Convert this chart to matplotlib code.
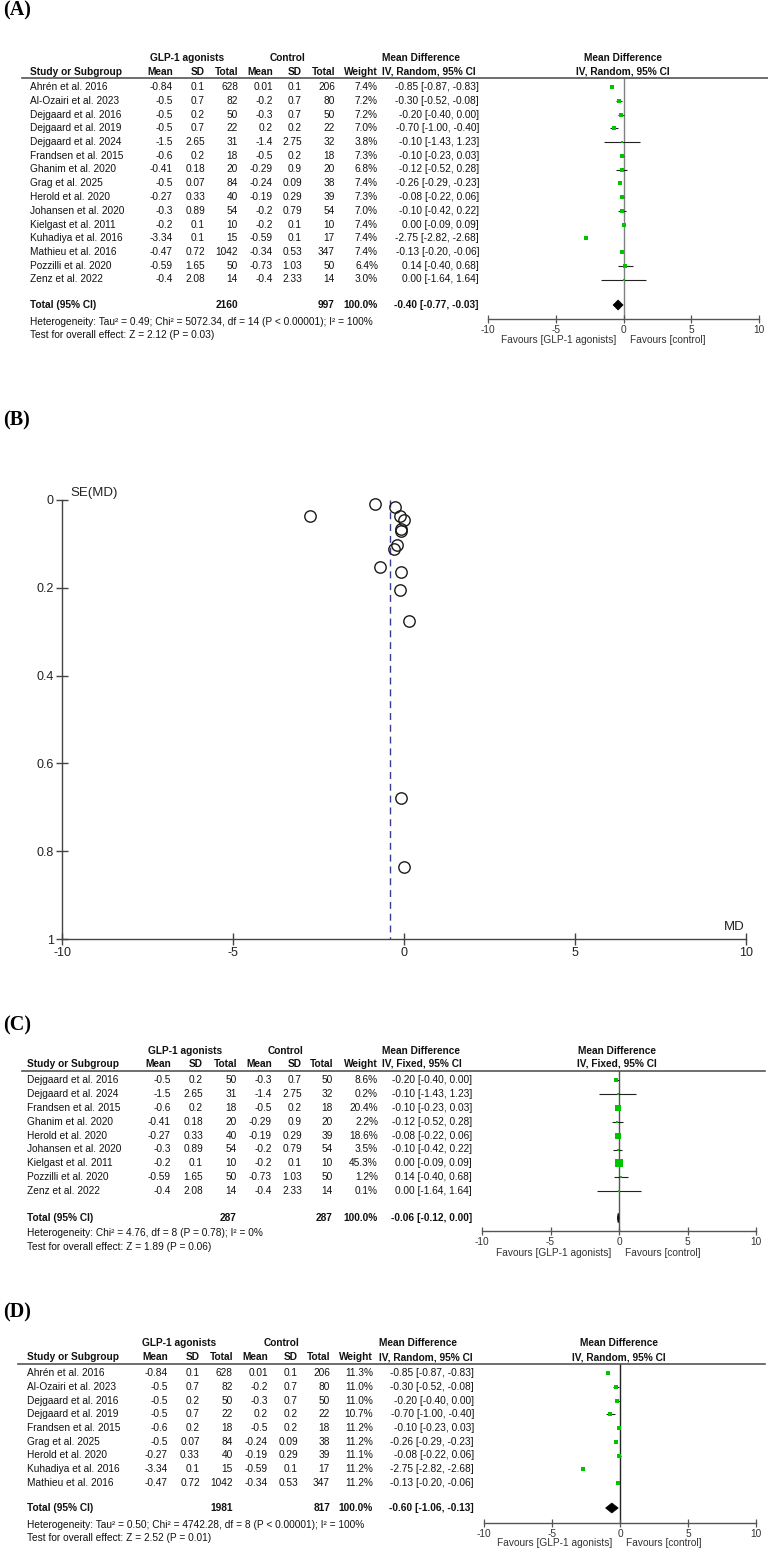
import matplotlib
matplotlib.use("Agg")
import matplotlib.pyplot as plt
from matplotlib.lines import Line2D
import matplotlib.transforms as mtransforms

plt.rcParams['axes.unicode_minus'] = False
plt.rcParams['font.family'] = ['Liberation Sans', 'DejaVu Sans']

# ---------------- data ----------------
studies = ["Ahrén et al. 2016", "Al-Ozairi et al. 2023", "Dejgaard et al. 2016",
           "Dejgaard et al. 2019", "Dejgaard et al. 2024", "Frandsen et al. 2015",
           "Ghanim et al. 2020", "Grag et al. 2025", "Herold et al. 2020",
           "Johansen et al. 2020", "Kielgast et al. 2011", "Kuhadiya et al. 2016",
           "Mathieu et al. 2016", "Pozzilli et al. 2020", "Zenz et al. 2022"]
glp_mean = [-0.84, -0.5, -0.5, -0.5, -1.5, -0.6, -0.41, -0.5, -0.27, -0.3, -0.2, -3.34, -0.47, -0.59, -0.4]
glp_sd = [0.1, 0.7, 0.2, 0.7, 2.65, 0.2, 0.18, 0.07, 0.33, 0.89, 0.1, 0.1, 0.72, 1.65, 2.08]
glp_n = [628, 82, 50, 22, 31, 18, 20, 84, 40, 54, 10, 15, 1042, 50, 14]
ctl_mean = [0.01, -0.2, -0.3, 0.2, -1.4, -0.5, -0.29, -0.24, -0.19, -0.2, -0.2, -0.59, -0.34, -0.73, -0.4]
ctl_sd = [0.1, 0.7, 0.7, 0.2, 2.75, 0.2, 0.9, 0.09, 0.29, 0.79, 0.1, 0.1, 0.53, 1.03, 2.33]
ctl_n = [206, 80, 50, 22, 32, 18, 20, 38, 39, 54, 10, 17, 347, 50, 14]
md = [-0.85, -0.30, -0.20, -0.70, -0.10, -0.10, -0.12, -0.26, -0.08, -0.10, 0.00, -2.75, -0.13, 0.14, 0.00]
ci_lo = [-0.87, -0.52, -0.40, -1.00, -1.43, -0.23, -0.52, -0.29, -0.22, -0.42, -0.09, -2.82, -0.20, -0.40, -1.64]
ci_hi = [-0.83, -0.08, 0.00, -0.40, 1.23, 0.03, 0.28, -0.23, 0.06, 0.22, 0.09, -2.68, -0.06, 0.68, 1.64]

# Panel A (random effects, all studies)
studies_A = studies
weight_A = [7.4, 7.2, 7.2, 7.0, 3.8, 7.3, 6.8, 7.4, 7.3, 7.0, 7.4, 7.4, 7.4, 6.4, 3.0]
totals_A = [2160, 997]
pooled_A = [-0.40, -0.77, -0.03]
het_A = "Heterogeneity: Tau² = 0.49; Chi² = 5072.34, df = 14 (P < 0.00001); I² = 100%"
test_A = "Test for overall effect: Z = 2.12 (P = 0.03)"

# Panel C (fixed effects)
studies_C = ["Dejgaard et al. 2016", "Dejgaard et al. 2024", "Frandsen et al. 2015",
             "Ghanim et al. 2020", "Herold et al. 2020", "Johansen et al. 2020",
             "Kielgast et al. 2011", "Pozzilli et al. 2020", "Zenz et al. 2022"]
weight_C = [8.6, 0.2, 20.4, 2.2, 18.6, 3.5, 45.3, 1.2, 0.1]
totals_C = [287, 287]
pooled_C = [-0.06, -0.12, 0.00]
het_C = "Heterogeneity: Chi² = 4.76, df = 8 (P = 0.78); I² = 0%"
test_C = "Test for overall effect: Z = 1.89 (P = 0.06)"

# Panel D (random effects)
studies_D = ["Ahrén et al. 2016", "Al-Ozairi et al. 2023", "Dejgaard et al. 2016",
             "Dejgaard et al. 2019", "Frandsen et al. 2015", "Grag et al. 2025",
             "Herold et al. 2020", "Kuhadiya et al. 2016", "Mathieu et al. 2016"]
weight_D = [11.3, 11.0, 11.0, 10.7, 11.2, 11.2, 11.1, 11.2, 11.2]
totals_D = [1981, 817]
pooled_D = [-0.60, -1.06, -0.13]
het_D = "Heterogeneity: Tau² = 0.50; Chi² = 4742.28, df = 8 (P < 0.00001); I² = 100%"
test_D = "Test for overall effect: Z = 2.52 (P = 0.01)"

# Panel B funnel plot (SE)
se_funnel = [0.010, 0.112, 0.102, 0.153, 0.679, 0.066, 0.204, 0.015, 0.071, 0.163, 0.046, 0.036, 0.036, 0.276, 0.837]
funnel_center = -0.40
se_ticks = [0, 0.2, 0.4, 0.6, 0.8, 1]
se_tick_labels = ["0", "0.2", "0.4", "0.6", "0.8", "1"]
md_ticks = [-10, -5, 0, 5, 10]
md_tick_labels = ["-10", "-5", "0", "5", "10"]

# ---------------- layout ----------------
W, H = 768, 1550
fig = plt.figure(figsize=(W / 100, H / 100), dpi=100)
FS = 7.3
TXT = '#111111'
GREEN = '#00c400'


def fx(px):
    return px / W


def fy(py):
    return 1 - py / H


def txt(x, y, s, ha='left', bold=False, size=FS, color=TXT, family=None):
    kw = {}
    if family:
        kw['family'] = family
    fig.text(fx(x), fy(y), s, ha=ha, va='center', fontsize=size,
             fontweight='bold' if bold else 'normal', color=color, **kw)


def panel_label(y, s):
    txt(3, y, s, bold=True, size=14.5, color='black', family=['Liberation Serif', 'DejaVu Serif'])


def fmt(v):
    return f"{v:g}"


def draw_forest(L, names, weights, totals, pooled, het, test, method, zero_color):
    idx = [studies.index(n) for n in names]
    # headers
    txt(L['glp_c'], L['h1'], "GLP-1 agonists", ha='center', bold=True)
    txt(L['ctl_c'], L['h1'], "Control", ha='center', bold=True)
    txt(L['hdr'], L['h1'], "Mean Difference", bold=True)
    txt(L['fc'], L['h1'], "Mean Difference", ha='center', bold=True)
    txt(L['name'], L['h2'], "Study or Subgroup", bold=True)
    for key, lab in [('m1', 'Mean'), ('s1', 'SD'), ('n1', 'Total'),
                     ('m2', 'Mean'), ('s2', 'SD'), ('n2', 'Total'), ('w', 'Weight')]:
        txt(L[key], L['h2'], lab, ha='right', bold=True)
    txt(L['hdr'], L['h2'], f"IV, {method}, 95% CI", bold=True)
    txt(L['fc'], L['h2'], f"IV, {method}, 95% CI", ha='center', bold=True)
    fig.add_artist(Line2D([fx(L['lx0']), fx(L['lx1'])], [fy(L['line']), fy(L['line'])],
                          color='#555555', lw=1.2))
    # rows
    for r, (i, w) in enumerate(zip(idx, weights)):
        y = L['y0'] + r * L['dy']
        txt(L['name'], y, studies[i])
        txt(L['m1'], y, fmt(glp_mean[i]), ha='right')
        txt(L['s1'], y, fmt(glp_sd[i]), ha='right')
        txt(L['n1'], y, str(glp_n[i]), ha='right')
        txt(L['m2'], y, fmt(ctl_mean[i]), ha='right')
        txt(L['s2'], y, fmt(ctl_sd[i]), ha='right')
        txt(L['n2'], y, str(ctl_n[i]), ha='right')
        txt(L['w'], y, f"{w:.1f}%", ha='right')
        txt(L['ci'], y, f"{md[i]:.2f} [{ci_lo[i]:.2f}, {ci_hi[i]:.2f}]", ha='right')
    # totals
    txt(L['name'], L['tot'], "Total (95% CI)", bold=True)
    txt(L['n1'], L['tot'], str(totals[0]), ha='right', bold=True)
    txt(L['n2'], L['tot'], str(totals[1]), ha='right', bold=True)
    txt(L['w'], L['tot'], "100.0%", ha='right', bold=True)
    txt(L['ci'], L['tot'], f"{pooled[0]:.2f} [{pooled[1]:.2f}, {pooled[2]:.2f}]", ha='right', bold=True)
    txt(L['name'], L['het'], het)
    txt(L['name'], L['test'], test)

    # forest axes
    x0, x1 = L['fx0'], L['fx1']
    ax = fig.add_axes([fx(x0), fy(L['axis']), fx(x1) - fx(x0), (L['axis'] - L['line']) / H])
    top = (L['line'] - L['y0']) / L['dy']
    bot = (L['axis'] - L['y0']) / L['dy']
    ax.set_xlim(-10, 10)
    ax.set_ylim(bot, top)
    ax.patch.set_visible(False)
    for s in ['top', 'left', 'right']:
        ax.spines[s].set_visible(False)
    ax.spines['bottom'].set_color('#555555')
    ax.spines['bottom'].set_linewidth(1.0)
    ax.set_yticks([])
    ax.set_xticks(md_ticks)
    ax.set_xticklabels(md_tick_labels)
    ax.tick_params(axis='x', direction='inout', length=6, width=0.9, color='#555555',
                   labelsize=FS, labelcolor='#333333', pad=1.5)
    ax.axvline(0, color=zero_color, lw=1.0, zorder=1)
    for r, (i, w) in enumerate(zip(idx, weights)):
        ax.plot([ci_lo[i], ci_hi[i]], [r, r], color='#222222', lw=0.8, zorder=2,
                solid_capstyle='butt')
        side = max(1.2 * w ** 0.5, 2.0) * 0.72
        ax.plot(md[i], r, marker='s', ms=side, color=GREEN, mec=GREEN, mew=0, zorder=3)
    t = (L['tot'] - L['y0']) / L['dy']
    h = 5.0 / L['dy']
    ax.fill([pooled[1], pooled[0], pooled[2], pooled[0]], [t, t - h, t, t + h],
            color='black', zorder=4, lw=0.5, ec='black')
    bt = mtransforms.blended_transform_factory(ax.transData, fig.transFigure)
    ax.text(-0.55, fy(L['fav']), "Favours [GLP-1 agonists]", transform=bt, ha='right',
            va='center', fontsize=FS, color='#333333')
    ax.text(0.45, fy(L['fav']), "Favours [control]", transform=bt, ha='left',
            va='center', fontsize=FS, color='#333333')


# ---- Panel A ----
panel_label(10, "(A)")
LA = dict(h1=58, h2=72, line=78, lx0=22, lx1=768, y0=87, dy=13.75,
          tot=305, het=322, test=335,
          name=30, m1=173, s1=205, n1=238, m2=273, s2=302, n2=335, w=378, ci=479, hdr=382,
          glp_c=187, ctl_c=287, fc=622.5, fx0=488, fx1=759, axis=319, fav=340)
draw_forest(LA, studies_A, weight_A, totals_A, pooled_A, het_A, test_A, "Random", '#808080')

# ---- Panel B (funnel) ----
panel_label(420, "(B)")
bx0, bx1, by0, by1 = 62, 746, 500, 939
axB = fig.add_axes([fx(bx0), fy(by1), fx(bx1) - fx(bx0), (by1 - by0) / H])
axB.set_xlim(-10, 10)
axB.set_ylim(1, 0)
axB.patch.set_visible(False)
for s in ['top', 'right']:
    axB.spines[s].set_visible(False)
for s in ['left', 'bottom']:
    axB.spines[s].set_color('#444444')
    axB.spines[s].set_linewidth(1.0)
axB.set_xticks(md_ticks)
axB.set_xticklabels(md_tick_labels)
axB.set_yticks(se_ticks)
axB.set_yticklabels(se_tick_labels)
axB.tick_params(direction='inout', length=8, width=1.0, color='#444444',
                labelsize=9, labelcolor='#222222', pad=2)
axB.plot([funnel_center, funnel_center], [0, 1], color='#3a3a90', lw=1.0,
         ls=(0, (5, 3.5)), zorder=1)
axB.plot(md, se_funnel, 'o', mfc='none', mec='#1a1a1a', ms=8.2, mew=1.0, zorder=3,
         clip_on=False)
txt(70, 493, "SE(MD)", size=9.5, color='#222222')
txt(745, 927, "MD", ha='right', size=9.5, color='#222222')

# ---- Panel C ----
panel_label(1025, "(C)")
LC = dict(h1=1051, h2=1064, line=1071, lx0=22, lx1=765, y0=1080, dy=13.9,
          tot=1218, het=1233, test=1247,
          name=27, m1=171, s1=203, n1=237, m2=272, s2=302, n2=333, w=378, ci=472, hdr=382,
          glp_c=185, ctl_c=286, fc=617, fx0=482, fx1=756, axis=1231, fav=1253)
draw_forest(LC, studies_C, weight_C, totals_C, pooled_C, het_C, test_C, "Fixed", '#555555')

# ---- Panel D ----
panel_label(1312, "(D)")
LD = dict(h1=1343, h2=1357, line=1364, lx0=18, lx1=765, y0=1373, dy=13.75,
          tot=1508, het=1525, test=1538,
          name=27, m1=168, s1=200, n1=233, m2=268, s2=298, n2=330, w=373, ci=474, hdr=379,
          glp_c=179, ctl_c=282, fc=619, fx0=484, fx1=756, axis=1523, fav=1543)
draw_forest(LD, studies_D, weight_D, totals_D, pooled_D, het_D, test_D, "Random", '#222222')

fig.savefig("out.png", dpi=100)
